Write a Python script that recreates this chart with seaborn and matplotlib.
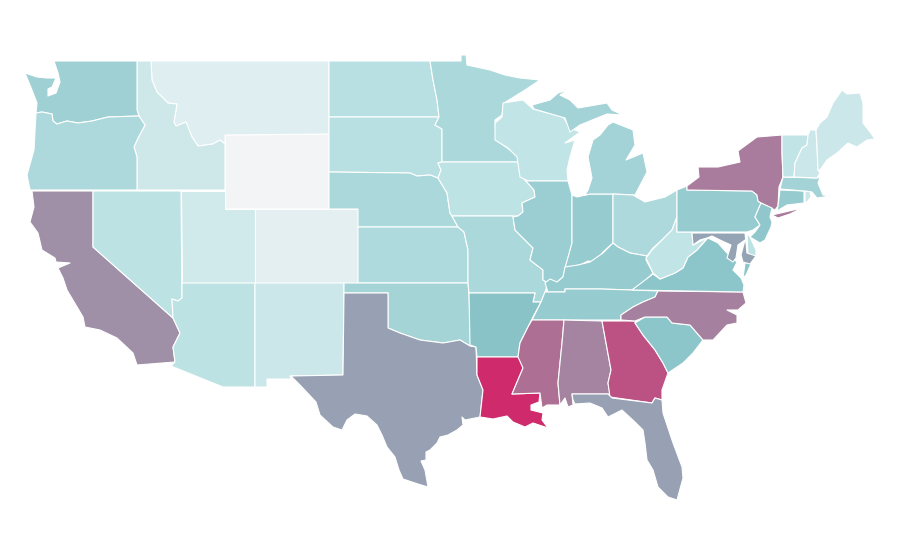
import matplotlib
matplotlib.use("Agg")
import matplotlib.pyplot as plt
import seaborn as sns
from matplotlib.colors import Normalize

sns.set_theme(style="white")

STATES = ["WY","MT","ID","WA","OR","CA","NV","UT","AZ","CO","NM","ND","SD","NE","KS","OK","TX","MN","IA","MO","AR","LA",
          "WI","IL","IN","MI","OH","KY","TN","MS","AL","GA","FL","SC","NC","VA","WV","PA","NY","NJ","DE","MD","CT","RI","MA","VT","NH","ME"]
RATES = [0,9,17,39,32,67,25,16,25,7,18,27,27,33,31,36,61,33,24,33,49,100,
         23,41,43,37,32,43,43,78,71,87,61,47,72,47,23,43,74,46,25,60,43,18,37,23,18,18]
SCALE_COLORS = ["#f3f4f6", "#bce2e4", "#87c2c7", "#aa789a", "#cf2a6b"]

# State geometry (outline vertices in map units)
OUTLINES = {
"WA": [[(54,61),(137,61),(137,110),(139,116),(108,117),(92,121),(78,123),(67,121),(57,124),(53,121),(52,114),(42,112),(36,113),(37,103),(32,90),(25,73),(37,77),(47,78),(52,78),(56,78),(52,87),(48,89),(48,96),(56,93),(60,82),(58,73)]],
"OR": [[(36,113),(42,112),(52,114),(53,121),(57,124),(67,121),(78,123),(92,121),(108,117),(139,116),(145,125),(138,138),(134,147),(137,157),(137,190),(30,190),(27,175),(34,150)]],
"CA": [[(32,191),(93,191),(93,247),(173,318),(180,333),(173,347),(175,362),(137,365),(133,353),(117,338),(100,330),(85,327),(83,317),(67,290),(63,278),(58,268),(70,263),(56,262),(55,258),(42,250),(38,233),(30,222),(34,207)]],
"NV": [[(93,191),(181,191),(182,298),(178,301),(172,299),(173,318),(93,247)]],
"ID": [[(137,61),(151,61),(152,80),(157,92),(168,103),(177,104),(174,122),(176,126),(186,122),(192,137),(198,146),(213,144),(220,140),(225,144),(225,190),(137,190),(137,157),(134,147),(138,138),(145,125),(139,116),(137,110)]],
"MT": [[(151,61),(329,61),(329,134),(225,135),(225,144),(220,140),(213,144),(198,146),(192,137),(186,122),(176,126),(174,122),(177,104),(168,103),(157,92),(152,80)]],
"WY": [[(225,135),(329,134),(329,209),(225,209)]],
"UT": [[(181,191),(225,191),(225,209),(255,209),(255,283),(182,283)]],
"AZ": [[(182,283),(255,283),(255,387),(223,387),(171,366),(175,362),(173,347),(180,333),(173,318),(172,299),(178,301),(182,298)]],
"CO": [[(255,209),(358,209),(358,283),(255,283)]],
"NM": [[(255,283),(344,283),(343,375),(290,376),(291,379),(267,379),(267,387),(255,387)]],
"ND": [[(329,61),(430,61),(433,80),(437,100),(439,117),(329,117)]],
"SD": [[(329,117),(439,117),(435,125),(442,129),(442,162),(438,163),(441,170),(438,178),(430,175),(417,176),(410,173),(329,172)]],
"NE": [[(329,172),(410,173),(417,176),(430,175),(438,178),(447,193),(450,213),(452,216),(458,227),(358,227),(358,209),(329,209)]],
"KS": [[(358,227),(458,227),(464,232),(468,250),(468,283),(358,283)]],
"OK": [[(344,283),(468,283),(469,293),(471,345),(470,346),(460,340),(443,343),(420,340),(400,333),(388,328),(388,293),(344,293)]],
"TX": [[(344,293),(388,293),(388,328),(400,333),(420,340),(443,343),(460,340),(470,346),(476,347),(477,375),(483,390),(480,417),(465,420),(462,417),(463,425),(457,430),(448,435),(440,437),(437,443),(430,450),(426,452),(426,460),(421,461),(425,470),(428,487),(418,484),(403,479),(399,470),(395,457),(387,447),(382,435),(377,425),(367,416),(355,414),(347,420),(342,430),(333,427),(320,415),(316,402),(300,385),(291,376),(343,375)]],
"MN": [[(430,61),(461,61),(461,55),(466,55),(467,65),(490,70),(505,75),(520,78),(540,80),(525,90),(504,103),(502,115),(495,120),(496,140),(510,150),(518,155),(518,162),(442,162),(442,129),(435,125),(439,117),(437,100),(433,80)]],
"IA": [[(442,162),(518,162),(520,175),(525,180),(534,190),(535,197),(522,203),(523,212),(518,216),(452,216),(450,213),(447,193),(438,178),(441,170),(438,163)]],
"MO": [[(452,216),(513,216),(515,230),(525,240),(533,248),(530,260),(543,270),(543,280),(548,283),(545,292),(541,302),(533,302),(535,293),(469,293),(468,283),(468,250),(464,232),(458,227)]],
"AR": [[(469,293),(535,293),(533,302),(541,302),(533,317),(528,327),(520,343),(518,357),(477,357),(476,347),(470,345)]],
"LA": [[(477,357),(519,357),(523,368),(512,394),(540,393),(539,402),(531,405),(531,410),(543,413),(542,420),(548,428),(533,423),(525,427),(513,422),(507,416),(493,419),(480,417),(483,390),(477,375)]],
"WI": [[(503,103),(523,100),(533,109),(563,117),(570,128),(580,132),(565,143),(575,140),(570,157),(567,170),(568,181),(528,181),(520,177),(517,157),(508,148),(495,140),(495,123),(502,117)]],
"IL": [[(528,181),(568,181),(572,195),(572,243),(563,277),(557,282),(548,283),(543,280),(543,270),(530,260),(533,248),(525,240),(515,230),(513,217),(518,216),(523,212),(522,203),(535,197),(534,190),(525,180)]],
"IN": [[(572,195),(577,197),(590,194),(613,194),(613,243),(603,252),(595,262),(588,261),(580,265),(565,268),(572,243)]],
"OH": [[(613,194),(633,195),(645,202),(665,197),(677,190),(677,217),(672,230),(662,240),(653,248),(647,256),(630,253),(618,247),(613,243)]],
"MI": [[(585,195),(588,190),(592,178),(588,157),(593,140),(600,135),(608,125),(613,122),(633,130),(635,145),(626,160),(643,153),(647,172),(635,195),(613,194),(590,194)],
       [(532,105),(550,100),(558,93),(568,90),(560,95),(570,100),(578,108),(607,103),(612,110),(623,115),(607,114),(580,125),(570,132),(565,118),(534,109)]],
"KY": [[(548,292),(545,283),(550,279),(557,282),(563,277),(565,267),(578,265),(590,262),(603,253),(613,243),(618,247),(630,253),(647,256),(646,260),(653,273),(643,283),(632,290),(600,289),(565,289),(565,292)]],
"TN": [[(545,292),(565,292),(565,289),(600,289),(632,290),(658,291),(655,297),(643,302),(633,307),(621,315),(621,320),(532,320),(541,302)]],
"MS": [[(532,320),(564,320),(562,343),(558,383),(560,405),(547,405),(542,408),(540,393),(512,394),(523,368),(518,357),(520,343),(528,327)]],
"AL": [[(564,320),(602,321),(611,370),(608,383),(610,394),(572,394),(573,405),(568,407),(565,398),(560,405),(558,383),(562,343)]],
"GA": [[(602,321),(635,321),(635,323),(643,335),(655,350),(663,363),(668,373),(662,390),(662,400),(655,398),(652,403),(610,397),(608,383),(611,370)]],
"FL": [[(572,394),(608,394),(612,398),(652,403),(655,398),(662,400),(663,413),(673,443),(682,467),(683,478),(677,500),(668,497),(658,487),(653,470),(647,460),(645,443),(643,430),(635,422),(622,410),(608,417),(602,408),(590,403),(575,404),(573,400)]],
"SC": [[(635,323),(645,317),(667,317),(672,323),(690,325),(703,340),(693,353),(683,363),(668,373),(663,363),(655,350),(643,335)]],
"NC": [[(658,291),(743,292),(746,303),(738,310),(727,310),(737,315),(737,323),(727,325),(713,340),(703,340),(690,325),(672,323),(667,317),(645,317),(635,321),(621,320),(621,315),(633,307),(643,302),(655,297)]],
"VA": [[(632,290),(653,274),(660,279),(675,273),(683,268),(688,257),(697,250),(708,238),(718,243),(727,253),(737,262),(733,270),(741,278),(744,285),(743,292)],
       [(752,262),(745,263),(743,278),(746,275)]],
"WV": [[(677,217),(677,232),(692,232),(693,245),(707,238),(697,250),(688,257),(683,268),(675,273),(660,279),(653,273),(646,258),(652,250),(662,240),(672,230)]],
"PA": [[(677,190),(687,186),(687,190),(752,191),(757,195),(758,201),(761,203),(755,217),(760,225),(753,230),(747,232),(677,232)]],
"NY": [[(687,190),(687,186),(699,177),(698,167),(718,167),(740,162),(738,151),(757,137),(782,135),(782,153),(783,177),(779,187),(778,206),(775,210),(761,203),(758,201),(757,195),(752,191)],
       [(772,215),(802,208),(790,214),(778,218)]],
"NJ": [[(761,203),(772,208),(770,217),(772,222),(771,227),(765,240),(760,243),(750,237),(755,232),(760,225),(755,217)]],
"DE": [[(747,233),(750,237),(756,250),(756,256),(748,256)]],
"MD": [[(692,233),(745,233),(747,253),(756,256),(750,264),(743,262),(741,255),(745,240),(738,245),(736,258),(733,262),(727,258),(731,245),(720,240),(712,236),(707,238),(700,240),(693,245)]],
"CT": [[(780,190),(804,191),(804,203),(787,205),(777,211),(778,206)]],
"RI": [[(805,191),(810,191),(811,197),(807,202),(805,202)]],
"MA": [[(783,177),(817,178),(820,177),(818,183),(823,195),(831,196),(817,198),(812,192),(805,191),(780,189)]],
"VT": [[(782,135),(808,135),(807,145),(802,148),(795,163),(794,177),(783,177),(782,153)]],
"NH": [[(808,135),(810,130),(816,130),(817,147),(818,170),(820,173),(817,178),(794,177),(795,163),(802,148),(807,145)]],
"ME": [[(816,130),(820,123),(827,117),(833,103),(842,90),(847,94),(860,93),(863,103),(863,123),(870,132),(875,139),(867,140),(857,147),(848,143),(837,153),(827,160),(820,170),(818,170),(817,147)]],
}

cmap = sns.blend_palette(SCALE_COLORS, n_colors=101, as_cmap=True)
norm = Normalize(0, 100)

fig = plt.figure(figsize=(9, 5.6), dpi=100)
ax = fig.add_axes([0, 0, 1, 1])
for state, rate in zip(STATES, RATES):
    for ring in OUTLINES[state]:
        xs, ys = zip(*ring)
        ax.fill(xs, ys, facecolor=cmap(norm(rate)), edgecolor="white", linewidth=0.8, joinstyle="round")
ax.set_xlim(0, 900)
ax.set_ylim(560, 0)
ax.axis("off")
fig.savefig("out.png", dpi=100, facecolor="white")
